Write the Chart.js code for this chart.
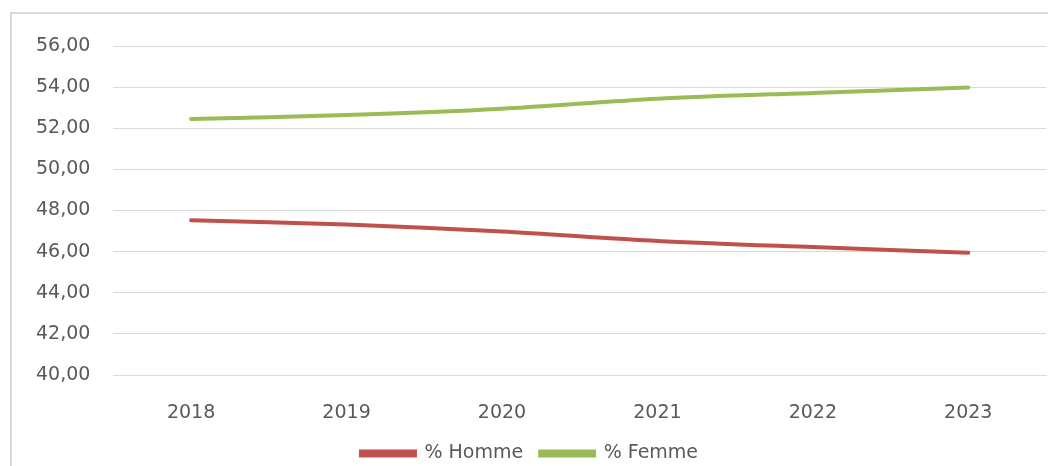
<!DOCTYPE html>
<html>
<head>
<meta charset="utf-8">
<script src="https://cdn.jsdelivr.net/npm/chart.js@4.4.1/dist/chart.umd.min.js"></script>
<style>
  html, body { margin: 0; padding: 0; background: #fff; overflow: hidden; }
  #frame {
    position: absolute; left: 10px; top: 12px;
    width: 1100px; height: 520px;
    border: 2px solid #d9d9d9; box-sizing: border-box;
  }
  #wrap { position: absolute; left: 0; top: 0; width: 1048px; height: 466px; }
</style>
</head>
<body>
<div id="frame"></div>
<div id="wrap"><canvas id="line-Chart" width="1048" height="466"></canvas></div>
<script>
// Data
const years = ['2018', '2019', '2020', '2021', '2022', '2023'];
const homme = [47.52, 47.32, 46.98, 46.52, 46.22, 45.95];
const femme = [52.45, 52.64, 52.95, 53.44, 53.72, 53.98];
const yTicks = [40, 42, 44, 46, 48, 50, 52, 54, 56];

document.addEventListener('DOMContentLoaded', function(){
    const textColor = '#595959';
    const gridColor = '#d9d9d9';
    const font = { family: 'DejaVu Sans', size: 19 };

    function createLineChart() {
        const ctx = document.getElementById('line-Chart').getContext('2d');

        const data = {
            labels: years,
            datasets: [{
                label: '% Homme',
                data: homme,
                borderColor: '#c0504d',
                backgroundColor: '#c0504d',
                borderWidth: 4,
                pointRadius: 0,
                tension: 0.3,
                borderCapStyle: 'round'
            }, {
                label: '% Femme',
                data: femme,
                borderColor: '#9bbb59',
                backgroundColor: '#9bbb59',
                borderWidth: 4,
                pointRadius: 0,
                tension: 0.3,
                borderCapStyle: 'round'
            }]
        };

        const options = {
            responsive: false,
            animation: false,
            layout: { padding: { left: 13, right: 2, top: 46, bottom: -7 } },
            plugins: {
                tooltip: { enabled: false },
                legend: {
                    position: 'bottom',
                    labels: {
                        color: textColor,
                        font: font,
                        boxWidth: 54,
                        boxHeight: 4,
                        padding: 17
                    }
                }
            },
            scales: {
                y: {
                    min: 40,
                    max: 56,
                    afterBuildTicks: function(axis) {
                        axis.ticks = yTicks.map(v => ({ value: v }));
                    },
                    ticks: {
                        color: textColor,
                        font: font,
                        padding: 23,
                        callback: v => v.toFixed(2).replace('.', ',')
                    },
                    grid: { color: gridColor, drawTicks: false },
                    border: { display: false }
                },
                x: {
                    offset: true,
                    // keep the axis box just tall enough for the labels
                    afterFit: function(axis) { axis.height = 52; },
                    ticks: { color: textColor, font: font, padding: 27 },
                    grid: { display: false, drawTicks: false },
                    border: { color: gridColor }
                }
            }
        };

        new Chart(ctx, { type: 'line', data: data, options: options });
    }

    createLineChart();
});
</script>
</body>
</html>
